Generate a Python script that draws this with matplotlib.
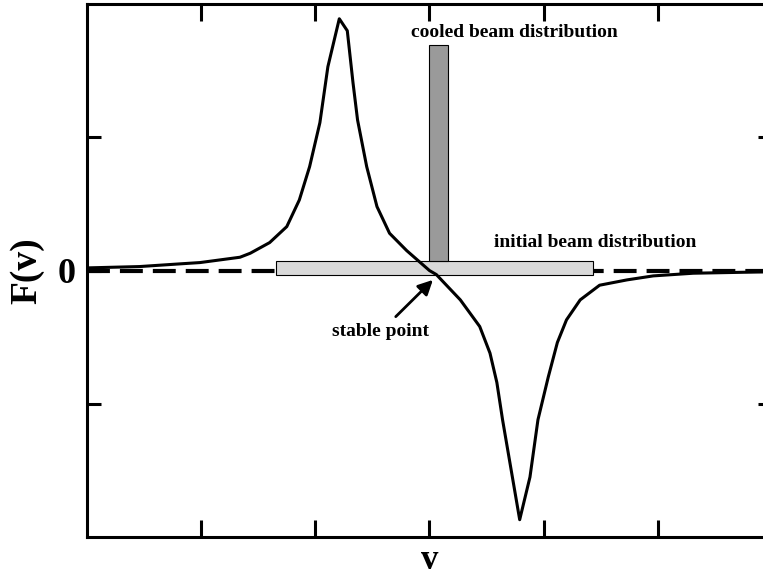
import numpy as np
import matplotlib.pyplot as plt

# ---- curve (v, F(v)) ----
v = [0.00, 0.46, 0.81, 0.99, 1.34, 1.43, 1.60, 1.75, 1.86, 1.95, 2.04, 2.11,
     2.21, 2.28, 2.33, 2.37, 2.45, 2.54, 2.65, 2.80, 2.92, 3.00, 3.06, 3.27,
     3.44, 3.53, 3.59, 3.64, 3.70, 3.79, 3.88, 3.95, 4.04, 4.12, 4.20, 4.32,
     4.49, 4.73, 4.96, 5.31, 5.92, 6.00]
F = [0.02, 0.03, 0.05, 0.06, 0.10, 0.13, 0.21, 0.33, 0.53, 0.78, 1.11, 1.53,
     1.89, 1.80, 1.41, 1.13, 0.78, 0.48, 0.28, 0.15, 0.06, 0.00, -0.03, -0.22,
     -0.42, -0.62, -0.84, -1.12, -1.42, -1.87, -1.55, -1.12, -0.80, -0.54, -0.37, -0.22,
     -0.11, -0.07, -0.04, -0.02, -0.01, -0.01]

# beam distributions: (v start, v end, F bottom, F top)
initial_beam = (1.655, 4.43, -0.034, 0.071)
cooled_beam = (3.00, 3.16, 0.071, 1.69)

yticks = [-1, 0, 1]
ytick_labels = ["", "0", ""]
xticks = [1, 2, 3, 4, 5]

serif = "Liberation Serif"

fig = plt.figure(figsize=(7.63, 5.78), dpi=100)
ax = fig.add_axes([0.114, 0.0709, 0.8978, 0.922])

# zero line
ax.axhline(0, color="black", lw=3, dashes=(5.5, 2.4), zorder=1)

# bars
x0, x1, y0, y1 = initial_beam
ax.bar(x0, y1 - y0, width=x1 - x0, bottom=y0, align="edge",
       color="#d9d9d9", edgecolor="black", linewidth=0.8, zorder=2)
x0, x1, y0, y1 = cooled_beam
ax.bar(x0, y1 - y0, width=x1 - x0, bottom=y0, align="edge",
       color="#9a9a9a", edgecolor="black", linewidth=0.8, zorder=2)

ax.plot(v, F, color="black", lw=2.2, zorder=3)

ax.text(3.74, 1.79, "cooled beam distribution", ha="center", va="center",
        fontsize=14, fontweight="bold", family=serif)
ax.text(4.45, 0.21, "initial beam distribution", ha="center", va="center",
        fontsize=14, fontweight="bold", family=serif)
ax.annotate("stable point", xy=(3.03, -0.07), xytext=(2.57, -0.46),
            ha="center", va="center", fontsize=14, fontweight="bold", family=serif,
            arrowprops=dict(arrowstyle="-|>", color="black", lw=2,
                            mutation_scale=22, shrinkA=4, shrinkB=0))

ax.set_xlim(0, 6)
ax.set_ylim(-2, 2)
ax.set_xticks(xticks)
ax.set_xticklabels([])
ax.set_yticks(yticks)
ax.set_yticklabels(ytick_labels, fontsize=26, fontweight="bold", family=serif)
ax.tick_params(direction="in", top=True, right=True, width=2.2, pad=8)
ax.tick_params(axis="x", length=12)
ax.tick_params(axis="y", length=10)
for s in ax.spines.values():
    s.set_linewidth(2.2)

ax.set_xlabel("v", fontsize=25, fontweight="bold", family=serif, labelpad=-3)
ax.set_ylabel("F(v)", fontsize=27, fontweight="bold", family=serif, labelpad=10)

fig.savefig("out.png", dpi=100)
